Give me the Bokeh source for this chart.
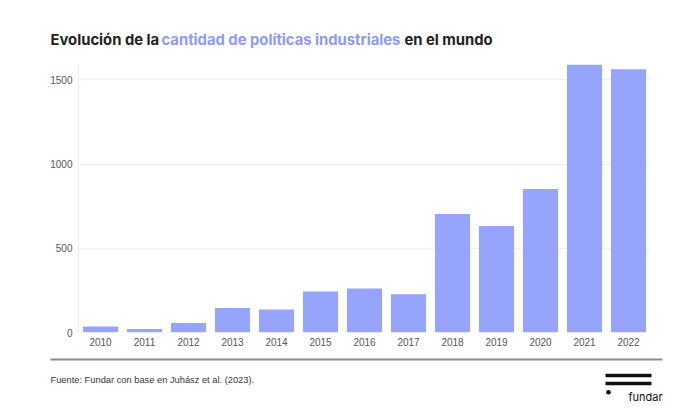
from bokeh.plotting import figure
from bokeh.layouts import column
from bokeh.models import Label, BoxAnnotation, FixedTicker, ColumnDataSource
from bokeh.embed import file_html
from bokeh.resources import INLINE

years = ["2010", "2011", "2012", "2013", "2014", "2015", "2016", "2017",
         "2018", "2019", "2020", "2021", "2022"]
counts = [35, 21, 57, 146, 136, 243, 261, 227, 703, 632, 852, 1589, 1563]
y_ticks = [0, 500, 1000, 1500]

BAR = "#97a4fb"
W = 679
H_TOP, H_MAIN, H_FOOT = 63, 293, 53


def blank(h):
    f = figure(width=W, height=h, x_range=(0, W), y_range=(h, 0),
               output_backend="svg", toolbar_location=None, min_border=0,
               frame_align=False)
    f.axis.visible = False
    f.grid.visible = False
    f.outline_line_color = None
    f.background_fill_color = "white"
    f.border_fill_color = "white"
    return f


# ---- title
top = blank(H_TOP)
title_parts = [("Evolución de la", 50, "#222222"),
               ("cantidad de políticas industriales", 161, "#8f9bf0"),
               ("en el mundo", 404, "#222222")]
for txt, X, col in title_parts:
    top.add_layout(Label(x=X, y=39, text=txt, text_font="Inter", text_font_style="bold",
                         text_font_size="14.8px", text_color=col,
                         text_baseline="alphabetic"))

# ---- main chart
src = ColumnDataSource(dict(year=years, count=counts))
p = figure(x_range=years, y_range=(0, 1597), width=W, height=H_MAIN,
           output_backend="svg", toolbar_location=None, frame_align=False,
           min_border_left=78, min_border_right=29,
           min_border_top=0, min_border_bottom=24)
p.vbar(x="year", top="count", width=0.8, source=src, color=BAR, line_color=None)

p.outline_line_color = None
p.background_fill_color = "white"
p.border_fill_color = "white"

p.xgrid.grid_line_color = None
p.ygrid.grid_line_color = "#f0f0f0"
p.ygrid.ticker = FixedTicker(ticks=y_ticks)

p.yaxis.ticker = FixedTicker(ticks=y_ticks)
p.yaxis.axis_line_color = "#eeeeee"
p.yaxis.major_tick_line_color = None
p.yaxis.minor_tick_line_color = None
p.yaxis.major_tick_out = 0
p.yaxis.major_tick_in = 0
p.yaxis.major_label_standoff = 6
p.yaxis.major_label_text_font = "Liberation Sans"
p.yaxis.major_label_text_font_size = "10px"
p.yaxis.major_label_text_color = "#555555"

p.xaxis.axis_line_color = None
p.xaxis.major_tick_line_color = None
p.xaxis.major_tick_out = 0
p.xaxis.major_tick_in = 0
p.xaxis.major_label_standoff = 5
p.xaxis.major_label_text_font = "Liberation Sans"
p.xaxis.major_label_text_font_size = "10px"
p.xaxis.major_label_text_color = "#555555"

# ---- footer
foot = blank(H_FOOT)
foot.add_layout(BoxAnnotation(left=50, right=662, top=2, bottom=4,
                              fill_color="#8a8a8a", fill_alpha=1, line_color=None))
foot.add_layout(Label(x=50, y=23, text="Fuente: Fundar con base en Juhász et al. (2023).",
                      text_font="Liberation Sans", text_font_size="9.3px",
                      text_color="#333333", text_baseline="alphabetic"))
for t in (17.3, 25.3):
    foot.add_layout(BoxAnnotation(left=605, right=651, top=t, bottom=t + 3.5,
                                  fill_color="#111111", fill_alpha=1, line_color=None))
foot.add_layout(BoxAnnotation(left=605.7, right=610.3, top=33.4, bottom=38,
                              fill_color="#111111", fill_alpha=1, line_color=None,
                              border_radius=3))
foot.add_layout(Label(x=628, y=40, text="fundar", text_font="Inter",
                      text_font_size="11px", text_color="#111111",
                      text_baseline="alphabetic"))

layout = column(top, p, foot, spacing=0)
open("out.html", "w").write(file_html(layout, INLINE))
